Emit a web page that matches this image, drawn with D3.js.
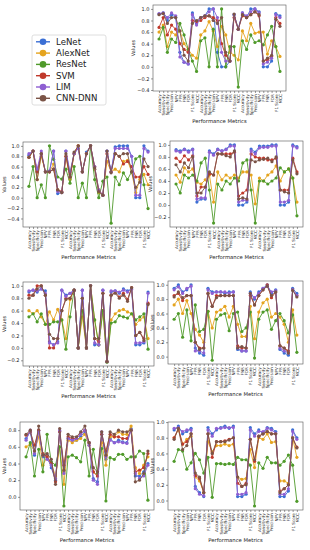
<!DOCTYPE html>
<html><head><meta charset="utf-8">
<script src="https://cdn.jsdelivr.net/npm/d3@7/dist/d3.min.js"></script>
<style>body{margin:0;background:#fff}svg{display:block}</style>
</head><body>
<script>
// ---------- DATA ----------
const seriesNames = ["LeNet","AlexNet","ResNet","SVM","LIM","CNN-DNN"];
const categories = [
 "Accuracy","Sensitivity","Specificity","Precision","NPV","FPR","FNR","FDR","F1 Score","MCC",
 "Accuracy","Sensitivity","Specificity","Precision","NPV","FPR","FNR","FDR","F1 Score","MCC",
 "Accuracy","Sensitivity","Specificity","Precision","NPV","FPR","FNR","FDR","F1 Score","MCC"];

// Panel 1 (top right)
const p1_LeNet   = [0.91,0.93,0.80,0.90,0.85,0.25,0.08,0.05,0.93,0.75,0.85,0.88,1.00,1.00,0.25,0.00,0.00,0.10,0.90,0.65,0.93,0.85,1.00,1.00,0.95,0.00,0.00,0.10,0.92,0.88];
const p1_AlexNet = [0.60,0.72,0.35,0.60,0.55,0.62,0.40,0.30,0.20,0.15,0.55,0.62,0.78,0.62,0.35,0.70,0.55,0.25,0.20,0.12,0.62,0.45,0.75,0.58,0.60,0.60,0.22,0.45,0.35,0.18];
const p1_ResNet  = [0.48,0.68,0.25,0.48,0.42,0.75,0.55,0.30,0.10,-0.08,0.45,0.50,0.00,0.65,0.00,1.00,0.00,0.35,0.35,-0.35,0.45,0.30,0.55,0.42,0.45,0.38,0.55,0.70,0.35,-0.08];
const p1_SVM     = [0.68,0.85,0.55,0.72,0.65,0.40,0.30,0.25,0.80,0.78,0.80,0.85,0.88,0.85,0.80,0.40,0.20,0.10,0.85,0.65,0.88,0.85,0.90,0.95,0.88,0.10,0.12,0.18,0.85,0.75];
const p1_LIM     = [0.92,0.93,0.85,0.93,0.88,0.17,0.08,0.05,0.90,0.72,0.85,0.88,0.95,1.00,0.85,0.25,0.10,0.10,0.90,0.65,0.93,0.88,0.95,1.00,0.93,0.05,0.08,0.15,0.90,0.85];
const p1_CNNDNN  = [0.90,0.92,0.75,0.85,0.85,0.62,0.20,0.10,0.75,0.80,0.85,0.88,0.88,0.80,0.75,0.85,0.25,0.10,0.91,0.65,0.90,0.85,0.90,0.95,0.90,0.10,0.15,0.20,0.82,0.70];

// Panel 2 (row 2 left)
const p2_LeNet   = [0.82,0.90,0.50,0.85,0.50,0.50,0.90,0.08,0.10,0.90,0.45,0.85,0.95,0.50,0.88,1.00,0.55,0.10,0.05,0.90,0.50,0.98,1.00,1.00,1.00,0.80,0.00,0.00,1.00,0.90];
const p2_AlexNet = [0.78,0.90,0.35,0.80,0.50,0.50,0.65,0.15,0.10,0.80,0.35,0.85,1.00,0.50,0.85,1.00,0.55,0.10,0.05,0.70,0.50,0.55,0.50,0.70,0.72,0.50,0.10,0.35,0.45,0.25];
const p2_ResNet  = [0.22,0.60,0.00,0.25,0.00,1.00,0.74,0.40,0.36,0.55,0.28,0.60,0.00,0.28,0.00,1.00,0.35,0.00,0.32,0.40,-0.49,0.40,0.25,0.48,0.35,0.50,0.75,0.80,0.25,-0.21];
const p2_SVM     = [0.78,0.90,0.50,0.85,0.50,0.50,0.55,0.15,0.12,0.80,0.40,0.85,1.00,0.50,0.85,1.00,0.60,0.15,0.05,0.85,0.50,0.85,0.80,0.65,0.70,0.60,0.40,0.40,0.60,0.45];
const p2_LIM     = [0.85,0.90,0.55,0.90,0.50,0.52,0.90,0.12,0.10,0.90,0.50,0.85,0.95,0.50,0.85,1.00,0.60,0.15,0.05,0.90,0.50,0.95,0.95,0.95,0.95,0.80,0.05,0.05,0.95,0.88];
const p2_CNNDNN  = [0.78,0.90,0.35,0.85,0.50,0.50,0.55,0.15,0.10,0.85,0.40,0.88,1.00,0.50,0.85,1.00,0.58,0.12,0.05,0.90,0.48,0.85,0.80,0.85,0.85,0.50,0.20,0.30,0.75,0.60];

// Panel 3 (row 2 right)
const p3_LeNet   = [0.92,0.90,0.93,0.90,0.93,0.05,0.10,0.10,0.90,0.85,0.93,0.90,0.93,1.00,1.00,0.00,0.00,0.05,0.93,0.88,0.98,0.98,0.98,1.00,1.00,0.00,0.00,0.05,1.00,0.97];
const p3_AlexNet = [0.50,0.38,0.62,0.55,0.60,0.38,0.35,0.42,0.50,0.05,0.55,0.42,0.50,0.45,0.50,0.45,0.55,0.55,0.50,0.02,0.45,0.40,0.50,0.55,0.65,0.40,0.55,0.60,0.45,0.05];
const p3_ResNet  = [0.35,0.20,0.50,0.45,0.50,0.40,0.70,0.78,0.25,-0.30,0.35,0.25,0.40,0.35,0.45,0.40,0.70,0.75,0.25,-0.30,0.40,0.40,0.35,0.40,0.45,0.62,0.55,0.60,0.45,-0.18];
const p3_SVM     = [0.78,0.72,0.82,0.75,0.82,0.15,0.30,0.30,0.52,0.50,0.85,0.85,0.85,0.85,0.88,0.15,0.20,0.25,0.85,0.80,0.78,0.78,0.75,0.75,0.78,0.25,0.25,0.25,0.78,0.55];
const p3_LIM     = [0.90,0.88,0.92,0.88,0.92,0.10,0.12,0.12,0.88,0.83,0.92,0.90,0.92,0.98,0.98,0.05,0.08,0.08,0.90,0.85,0.95,0.96,0.96,0.98,0.98,0.05,0.05,0.08,0.98,0.95];
const p3_CNNDNN  = [0.67,0.55,0.70,0.62,0.80,0.20,0.20,0.30,0.55,0.50,0.85,0.85,0.82,0.80,0.90,0.10,0.12,0.10,0.75,0.72,0.75,0.76,0.78,0.72,0.80,0.25,0.22,0.20,0.75,0.52];

// Panel 4 (row 3 left)
const p4_LeNet   = [0.90,0.93,0.90,0.95,0.92,0.10,0.05,0.10,0.93,0.85,0.88,0.93,0.00,0.93,0.00,1.00,0.05,0.05,0.93,-0.22,0.90,0.92,0.88,0.95,0.92,0.95,0.05,0.05,0.08,0.90];
const p4_AlexNet = [0.60,0.55,0.60,0.50,0.38,0.58,0.45,0.62,0.45,0.15,0.78,0.93,0.00,0.50,0.00,1.00,0.45,0.05,0.60,-0.22,0.45,0.55,0.60,0.62,0.58,0.55,0.38,0.45,0.50,0.15];
const p4_ResNet  = [0.50,0.55,0.42,0.55,0.38,0.38,0.42,0.42,0.45,-0.02,0.50,0.93,0.00,0.60,0.00,1.00,0.45,0.05,0.60,-0.23,0.40,0.42,0.52,0.50,0.48,0.55,0.45,0.50,0.55,-0.02];
const p4_SVM     = [0.85,0.85,1.00,1.00,0.85,0.00,0.00,0.15,0.60,0.80,0.80,0.93,0.00,0.80,0.00,1.00,0.15,0.10,0.88,-0.22,0.85,0.90,0.82,0.88,0.78,0.97,0.20,0.25,0.15,0.72];
const p4_LIM     = [0.92,0.93,0.92,0.95,0.88,0.08,0.05,0.08,0.93,0.83,0.88,0.93,0.00,0.93,0.00,1.00,0.08,0.05,0.93,-0.22,0.92,0.92,0.90,0.93,0.90,0.95,0.08,0.08,0.10,0.88];
const p4_CNNDNN  = [0.80,0.85,0.95,1.00,0.85,0.22,0.15,0.15,0.60,0.78,0.80,0.93,0.00,0.80,0.00,1.00,0.15,0.15,0.88,-0.22,0.85,0.88,0.80,0.85,0.75,0.97,0.20,0.25,0.12,0.70];

// Panel 5 (row 3 right)
const p5_LeNet   = [0.95,1.00,0.90,0.93,1.00,0.12,0.05,0.02,0.95,0.90,0.90,0.90,0.88,0.90,0.90,0.10,0.08,0.08,0.90,0.80,0.90,0.95,1.00,0.88,0.93,0.10,0.05,0.02,0.95,0.88];
const p5_AlexNet = [0.72,0.80,0.60,0.78,0.60,0.38,0.30,0.20,0.63,0.40,0.62,0.65,0.70,0.55,0.70,0.45,0.28,0.28,0.70,0.25,0.62,0.75,0.80,0.55,0.60,0.55,0.45,0.20,0.65,0.30];
const p5_ResNet  = [0.52,0.60,0.27,0.65,0.22,0.72,0.35,0.38,0.63,-0.05,0.52,0.58,0.60,0.36,0.60,0.62,0.35,0.40,0.62,-0.02,0.52,0.62,0.65,0.38,0.50,0.60,0.50,0.33,0.58,0.06];
const p5_SVM     = [0.85,0.88,0.78,0.85,0.85,0.20,0.12,0.12,0.88,0.70,0.85,0.85,0.85,0.85,0.85,0.15,0.12,0.12,0.85,0.72,0.85,0.93,1.00,0.82,0.90,0.15,0.12,0.08,0.93,0.85];
const p5_LIM     = [0.93,0.97,0.88,0.95,0.98,0.08,0.08,0.05,0.93,0.88,0.90,0.90,0.90,0.88,0.90,0.12,0.08,0.08,0.88,0.82,0.88,0.95,0.98,0.90,0.92,0.12,0.08,0.05,0.93,0.85];
const p5_CNNDNN  = [0.83,0.90,0.82,0.85,0.85,0.20,0.10,0.12,0.88,0.70,0.82,0.85,0.85,0.85,0.85,0.12,0.14,0.12,0.88,0.72,0.85,0.93,0.98,0.85,0.90,0.15,0.12,0.05,0.92,0.83];

// Panel 6 (row 4 left)
const p6_LeNet   = [0.70,0.78,0.50,0.80,0.48,0.50,0.35,0.20,0.78,0.30,0.70,0.68,0.68,0.72,0.78,0.65,0.22,0.18,0.75,0.45,0.70,0.65,0.68,0.66,0.65,0.82,0.25,0.25,0.30,0.40];
const p6_AlexNet = [0.60,0.63,0.55,0.72,0.38,0.48,0.40,0.25,0.60,0.15,0.68,0.65,0.68,0.70,0.75,0.62,0.30,0.25,0.65,0.38,0.72,0.72,0.78,0.75,0.75,0.85,0.35,0.28,0.38,0.48];
const p6_ResNet  = [0.48,0.65,0.25,0.57,0.30,0.75,0.42,0.38,0.60,-0.11,0.48,0.50,0.47,0.42,0.68,0.25,0.57,0.28,0.58,-0.05,0.47,0.45,0.51,0.51,0.45,0.48,0.48,0.55,0.52,-0.04];
const p6_SVM     = [0.74,0.78,0.62,0.80,0.52,0.48,0.40,0.18,0.78,0.38,0.72,0.70,0.70,0.76,0.80,0.65,0.30,0.25,0.75,0.55,0.75,0.72,0.72,0.70,0.70,0.80,0.30,0.32,0.35,0.52];
const p6_LIM     = [0.68,0.80,0.52,0.78,0.50,0.45,0.38,0.22,0.80,0.28,0.70,0.68,0.70,0.75,0.80,0.62,0.20,0.15,0.78,0.48,0.68,0.65,0.66,0.65,0.64,0.80,0.28,0.22,0.25,0.38];
const p6_CNNDNN  = [0.75,0.80,0.55,0.85,0.50,0.52,0.45,0.15,0.82,0.32,0.75,0.72,0.72,0.78,0.85,0.65,0.35,0.30,0.78,0.50,0.78,0.75,0.80,0.78,0.78,0.80,0.18,0.20,0.28,0.55];

// Panel 7 (row 4 right)
const p7_LeNet   = [0.90,0.95,0.85,0.88,0.92,0.18,0.10,0.05,0.93,0.85,0.90,0.93,0.95,0.92,0.95,0.05,0.05,0.08,0.93,0.85,0.90,0.85,0.93,0.92,0.88,0.05,0.05,0.12,0.90,0.80];
const p7_AlexNet = [0.80,0.90,0.72,0.78,0.82,0.30,0.25,0.10,0.75,0.62,0.70,0.70,0.72,0.70,0.72,0.30,0.27,0.28,0.65,0.42,0.80,0.78,0.85,0.74,0.75,0.25,0.25,0.22,0.80,0.55];
const p7_ResNet  = [0.50,0.65,0.63,0.40,0.48,0.60,0.52,0.35,0.55,0.04,0.47,0.47,0.46,0.47,0.46,0.55,0.52,0.52,0.45,-0.07,0.48,0.41,0.55,0.48,0.48,0.45,0.50,0.58,0.45,-0.01];
const p7_SVM     = [0.80,0.92,0.72,0.75,0.85,0.32,0.28,0.10,0.85,0.55,0.75,0.75,0.76,0.78,0.80,0.22,0.18,0.22,0.78,0.50,0.82,0.85,0.88,0.85,0.85,0.12,0.15,0.20,0.80,0.68];
const p7_LIM     = [0.92,0.93,0.88,0.90,0.90,0.15,0.08,0.06,0.90,0.82,0.92,0.92,0.93,0.93,0.93,0.08,0.08,0.10,0.90,0.82,0.88,0.88,0.92,0.90,0.86,0.08,0.08,0.15,0.88,0.78];
const p7_CNNDNN  = [0.78,0.92,0.65,0.70,0.85,0.35,0.30,0.10,0.85,0.60,0.75,0.75,0.75,0.77,0.80,0.30,0.18,0.20,0.78,0.52,0.82,0.85,0.88,0.85,0.85,0.10,0.15,0.20,0.80,0.67];

// ---------- STYLE / LAYOUT ----------
const colors = ["#3b6fd4","#e5a41f","#4f9a2a","#c0392b","#8e5fd2","#7b5447"];
const panels = [
  {box:{l:153,t:5,r:286,b:91},   series:[p1_LeNet,p1_AlexNet,p1_ResNet,p1_SVM,p1_LIM,p1_CNNDNN]},
  {box:{l:23,t:142,r:154,b:227}, series:[p2_LeNet,p2_AlexNet,p2_ResNet,p2_SVM,p2_LIM,p2_CNNDNN]},
  {box:{l:170,t:141,r:303,b:227},series:[p3_LeNet,p3_AlexNet,p3_ResNet,p3_SVM,p3_LIM,p3_CNNDNN]},
  {box:{l:23,t:282,r:154,b:366}, series:[p4_LeNet,p4_AlexNet,p4_ResNet,p4_SVM,p4_LIM,p4_CNNDNN]},
  {box:{l:168,t:281,r:303,b:364},series:[p5_LeNet,p5_AlexNet,p5_ResNet,p5_SVM,p5_LIM,p5_CNNDNN]},
  {box:{l:20,t:422,r:154,b:510}, series:[p6_LeNet,p6_AlexNet,p6_ResNet,p6_SVM,p6_LIM,p6_CNNDNN]},
  {box:{l:168,t:422,r:303,b:510},series:[p7_LeNet,p7_AlexNet,p7_ResNet,p7_SVM,p7_LIM,p7_CNNDNN]}
];
const FONT = "DejaVu Sans, Liberation Sans, sans-serif";

const svg = d3.select("body").append("svg").attr("width",310).attr("height",550)
  .style("font-family",FONT);

const fmt = v => { const r = Math.round(v*10)/10; return (r<0?"\u2212":"") + Math.abs(r).toFixed(1); };

panels.forEach(p => {
  const B = p.box, n = categories.length;
  const all = p.series.flat();
  const mn = d3.min(all), mx = d3.max(all), pad = (mx-mn)*0.05;
  const y = d3.scaleLinear().domain([mn-pad, mx+pad]).range([B.b, B.t]);
  const xm = (n-1)*0.05;
  const x = d3.scaleLinear().domain([-xm, n-1+xm]).range([B.l, B.r]);
  const g = svg.append("g");

  const yt = [];
  for (let k=Math.ceil((mn-pad)/0.2-1e-9); k<=Math.floor((mx+pad)/0.2+1e-9); k++) yt.push(Math.round(k*2)/10);

  const ya = g.append("g").attr("transform",`translate(${B.l},0)`)
    .call(d3.axisLeft(y).tickValues(yt).tickFormat(fmt).tickSize(2).tickPadding(1.5));
  ya.select(".domain").remove();
  ya.selectAll("line").attr("stroke","#333").attr("stroke-width",0.5);
  ya.selectAll("text").attr("font-size",5).attr("fill","#222").attr("font-family",FONT);

  const xa = g.append("g").attr("transform",`translate(0,${B.b})`)
    .call(d3.axisBottom(x).tickValues(d3.range(n)).tickFormat(i=>categories[i]).tickSize(2));
  xa.select(".domain").remove();
  xa.selectAll("line").attr("stroke","#333").attr("stroke-width",0.5);
  xa.selectAll("text").attr("font-size",4.1).attr("fill","#222").attr("font-family",FONT)
    .attr("transform","rotate(-90)").attr("text-anchor","end")
    .attr("x",-3.2).attr("y",0).attr("dy","0.35em");

  g.append("rect").attr("x",B.l).attr("y",B.t).attr("width",B.r-B.l).attr("height",B.b-B.t)
    .attr("fill","none").attr("stroke","#555").attr("stroke-width",0.6);

  const line = d3.line().x((d,i)=>x(i)).y(d=>y(d));
  p.series.forEach((s,si) => {
    g.append("path").datum(s).attr("d",line).attr("fill","none")
      .attr("stroke",colors[si]).attr("stroke-width",0.9);
    g.append("g").selectAll("circle").data(s).join("circle")
      .attr("cx",(d,i)=>x(i)).attr("cy",d=>y(d)).attr("r",1.6).attr("fill",colors[si]);
  });

  const bb = ya.node().getBBox();
  const vx = Math.max(4, B.l + bb.x - 4);
  g.append("text").attr("transform",`translate(${vx},${(B.t+B.b)/2}) rotate(-90)`)
    .attr("text-anchor","middle").attr("dy","0.35em").attr("font-size",5).attr("fill","#222").text("Values");
  g.append("text").attr("x",(B.l+B.r)/2).attr("y",B.b+32).attr("text-anchor","middle")
    .attr("font-size",5.3).attr("fill","#222").text("Performance Metrics");
});

// Legend
const lg = svg.append("g");
lg.append("rect").attr("x",32).attr("y",35).attr("width",74).attr("height",70).attr("rx",2)
  .attr("fill","#fff").attr("stroke","#d5d5d5").attr("stroke-width",0.8);
seriesNames.forEach((name,i) => {
  const yy = 41.8 + i*11.3;
  lg.append("line").attr("x1",36).attr("x2",50).attr("y1",yy).attr("y2",yy)
    .attr("stroke",colors[i]).attr("stroke-width",1.4);
  lg.append("circle").attr("cx",43).attr("cy",yy).attr("r",3.3).attr("fill",colors[i]);
  lg.append("text").attr("x",56).attr("y",yy).attr("dy","0.35em").attr("font-size",8.6)
    .attr("fill","#222").text(name);
});
</script>
</body></html>
